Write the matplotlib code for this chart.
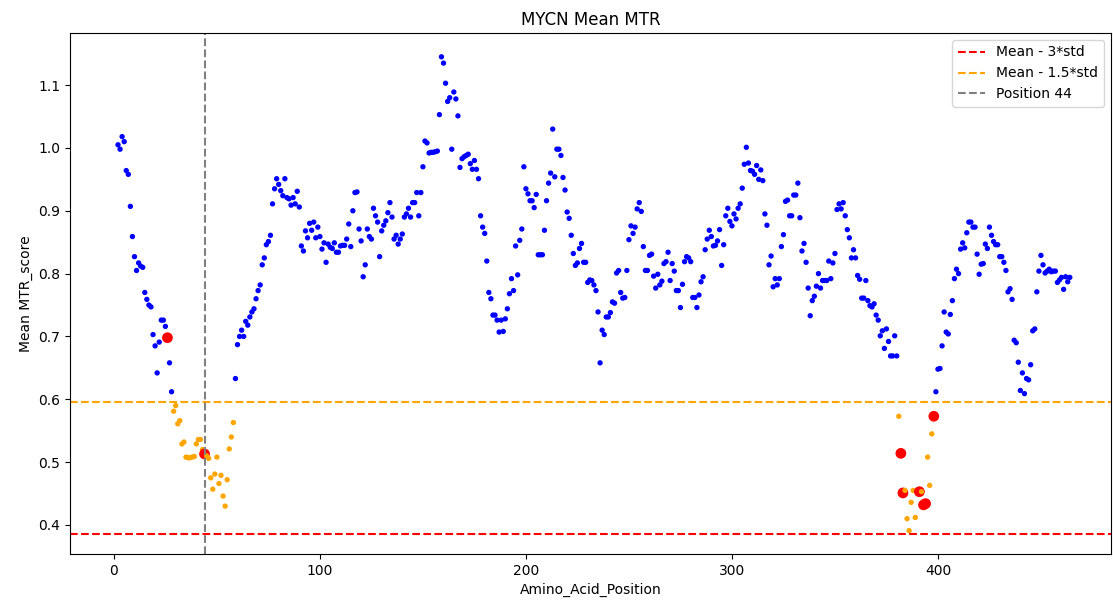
import numpy as np
import matplotlib
matplotlib.use("Agg")
import matplotlib.pyplot as plt

# mean MTR score per residue, starting at residue 2
start_pos = 2
mtr_scores = [
    1.005, 0.998, 1.018, 1.010, 0.964, 0.958, 0.907, 0.859, 0.827, 0.805,
    0.817, 0.812, 0.810, 0.770, 0.759, 0.750, 0.747, 0.703, 0.685, 0.642,
    0.691, 0.726, 0.726, 0.716, 0.698, 0.658, 0.612, 0.581, 0.590, 0.561,
    0.566, 0.529, 0.532, 0.508, 0.507, 0.507, 0.508, 0.509, 0.529, 0.536,
    0.536, 0.520, 0.513, 0.510, 0.506, 0.475, 0.457, 0.481, 0.508, 0.466,
    0.479, 0.446, 0.430, 0.472, 0.521, 0.540, 0.563,
    # 59-139
    0.633, 0.687, 0.700, 0.710, 0.700, 0.724, 0.718, 0.731, 0.739, 0.744,
    0.760, 0.773, 0.782, 0.814, 0.825, 0.846, 0.851, 0.861, 0.911, 0.935,
    0.951, 0.942, 0.932, 0.924, 0.951, 0.921, 0.919, 0.909, 0.921, 0.911,
    0.931, 0.906, 0.844, 0.836, 0.868, 0.857, 0.880, 0.869, 0.882, 0.857,
    0.874, 0.859, 0.839, 0.849, 0.818, 0.847, 0.842, 0.840, 0.849, 0.834,
    0.834, 0.844, 0.845, 0.845, 0.855, 0.879, 0.843, 0.900, 0.929, 0.930,
    0.871, 0.852, 0.795, 0.814, 0.871, 0.859, 0.855, 0.904, 0.892, 0.882,
    0.827, 0.868, 0.877, 0.884, 0.897, 0.913, 0.890, 0.855, 0.861, 0.847,
    0.855,
    # 140-219
    0.863, 0.890, 0.895, 0.904, 0.890, 0.913, 0.913, 0.929, 0.892, 0.929,
    0.970, 1.011, 1.008, 0.992, 0.993, 0.993, 0.994, 0.995, 1.053, 1.145,
    1.135, 1.103, 1.074, 1.080, 0.998, 1.089, 1.078, 1.051, 0.969, 0.983,
    0.986, 0.988, 0.990, 0.975, 0.966, 0.980, 0.966, 0.951, 0.892, 0.874,
    0.864, 0.820, 0.770, 0.760, 0.734, 0.734, 0.726, 0.707, 0.726, 0.708,
    0.728, 0.744, 0.768, 0.792, 0.773, 0.844, 0.798, 0.853, 0.871, 0.970,
    0.935, 0.927, 0.916, 0.916, 0.905, 0.926, 0.830, 0.830, 0.830, 0.869,
    0.916, 0.944, 0.960, 1.030, 0.954, 0.998, 0.998, 0.988, 0.953, 0.933,
    # 220-299
    0.898, 0.888, 0.861, 0.832, 0.813, 0.817, 0.840, 0.848, 0.818, 0.818,
    0.786, 0.790, 0.789, 0.782, 0.773, 0.739, 0.658, 0.710, 0.703, 0.731,
    0.731, 0.738, 0.755, 0.753, 0.801, 0.805, 0.770, 0.761, 0.762, 0.805,
    0.854, 0.876, 0.864, 0.874, 0.903, 0.913, 0.899, 0.843, 0.805, 0.805,
    0.829, 0.831, 0.796, 0.777, 0.799, 0.782, 0.788, 0.816, 0.819, 0.834,
    0.789, 0.816, 0.804, 0.773, 0.773, 0.746, 0.783, 0.819, 0.827, 0.825,
    0.819, 0.762, 0.762, 0.746, 0.766, 0.787, 0.795, 0.838, 0.855, 0.869,
    0.859, 0.844, 0.845, 0.852, 0.870, 0.813, 0.846, 0.892, 0.904, 0.883,
    # 300-378
    0.876, 0.895, 0.887, 0.904, 0.911, 0.936, 0.974, 1.001, 0.976, 0.964,
    0.963, 0.958, 0.972, 0.950, 0.965, 0.948, 0.895, 0.877, 0.814, 0.828,
    0.779, 0.792, 0.782, 0.792, 0.843, 0.862, 0.915, 0.917, 0.892, 0.892,
    0.925, 0.925, 0.944, 0.889, 0.836, 0.848, 0.818, 0.777, 0.733, 0.757,
    0.764, 0.780, 0.800, 0.777, 0.789, 0.789, 0.789, 0.820, 0.792, 0.817,
    0.832, 0.902, 0.911, 0.903, 0.913, 0.892, 0.870, 0.857, 0.825, 0.838,
    0.825, 0.797, 0.791, 0.761, 0.761, 0.789, 0.757, 0.749, 0.747, 0.752,
    0.734, 0.726, 0.701, 0.709, 0.681, 0.712, 0.692, 0.669, 0.669,
    # 379-464
    0.701, 0.669,
    0.573, 0.514, 0.451, 0.455, 0.410, 0.391, 0.436, 0.455, 0.412,
    0.450, 0.453, 0.453, 0.432, 0.434, 0.508, 0.463, 0.545, 0.573,
    0.612, 0.648, 0.649, 0.685, 0.739, 0.707, 0.704, 0.735, 0.757, 0.792,
    0.807, 0.800, 0.839, 0.849, 0.841, 0.865, 0.882, 0.882, 0.874, 0.874,
    0.831, 0.799, 0.815, 0.816, 0.847, 0.840, 0.874, 0.861, 0.851, 0.846,
    0.846, 0.827, 0.827, 0.818, 0.805, 0.771, 0.776, 0.759, 0.694, 0.690,
    0.659, 0.614, 0.642, 0.609, 0.633, 0.631, 0.655, 0.709, 0.712, 0.771,
    0.804, 0.829, 0.814, 0.801, 0.804, 0.807, 0.803, 0.804, 0.804, 0.786,
    0.790, 0.794, 0.775, 0.795, 0.787, 0.794,
]

# residues carrying variants of interest
variant_positions = [26, 44, 382, 383, 391, 393, 394, 398]
marked_position = 44

mtr_mean = 0.8057
mtr_std = 0.140

positions = np.arange(start_pos, start_pos + len(mtr_scores))
scores = np.array(mtr_scores)

low_cut = mtr_mean - 3 * mtr_std
mid_cut = mtr_mean - 1.5 * mtr_std

colors = []
sizes = []
for pos, val in zip(positions, scores):
    if pos in variant_positions:
        colors.append("red")
        sizes.append(45)
    elif val < low_cut:
        colors.append("red")
        sizes.append(8)
    elif val < mid_cut:
        colors.append("orange")
        sizes.append(8)
    else:
        colors.append("blue")
        sizes.append(8)

fig = plt.figure(figsize=(11.13, 6.10), dpi=100)
ax = fig.add_axes([0.0629, 0.092, 0.9353, 0.854])

ax.scatter(positions, scores, c=colors, s=sizes)
ax.axhline(low_cut, color="red", linestyle="--", label="Mean - 3*std")
ax.axhline(mid_cut, color="orange", linestyle="--", label="Mean - 1.5*std")
ax.axvline(marked_position, color="gray", linestyle="--",
           label=f"Position {marked_position}")

ax.set_xlim(-21.3, 484)
ax.set_ylim(0.354, 1.183)
ax.set_title("MYCN Mean MTR")
ax.set_xlabel("Amino_Acid_Position")
ax.set_ylabel("Mean MTR_score")
ax.legend(loc="upper right")

fig.savefig("out.png", dpi=100)
